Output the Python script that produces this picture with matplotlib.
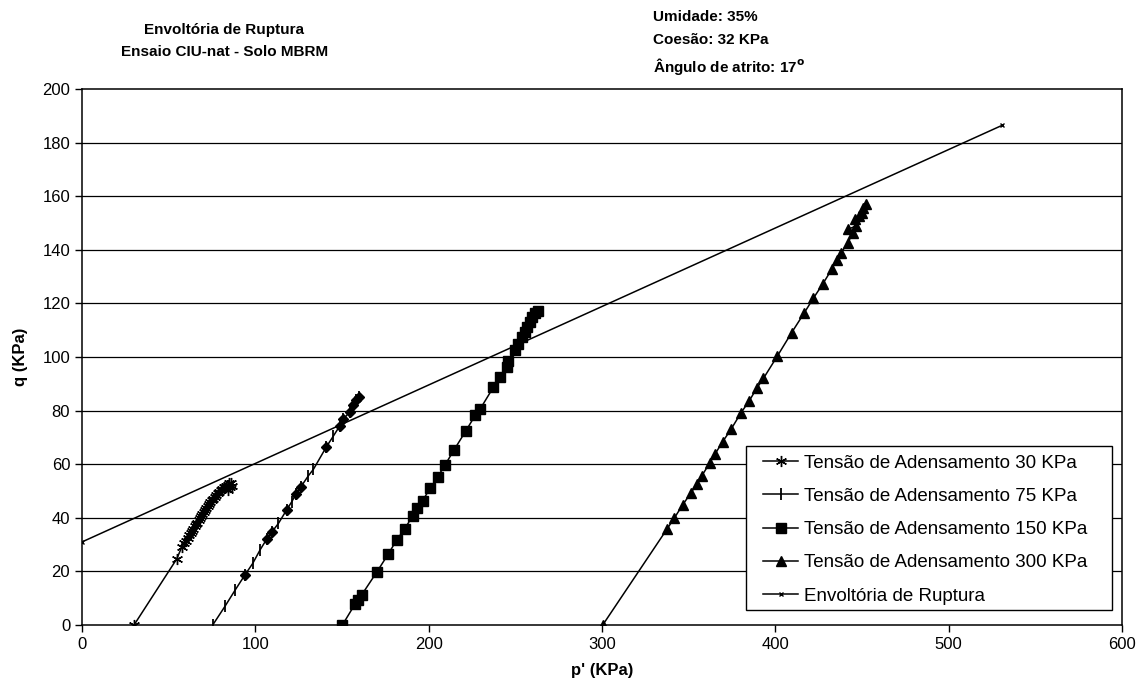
import matplotlib
matplotlib.use("Agg")
import matplotlib.pyplot as plt
from matplotlib.patches import Rectangle

plt.rcParams['font.family'] = ['Liberation Sans', 'DejaVu Sans']

# ---- data ----
p30 = [30.0, 54.6, 57.5, 59.0, 60.0, 61.0, 62.0, 62.8, 63.5, 64.3, 65.0, 65.8, 66.5, 67.3,
       68.0, 68.8, 69.4, 70.2, 71.0, 71.7, 72.5, 73.3, 74.0, 74.8, 75.7, 76.5, 77.4, 78.2,
       79.0, 80.0, 81.0, 82.0, 83.0, 84.0, 85.0, 86.0, 85.5, 84.2, 86.5]
q30 = [0.0, 24.6, 29.0, 30.5, 31.5, 32.4, 33.6, 34.2, 35.1, 35.9, 36.8, 37.6, 38.2, 39.1,
       39.9, 40.6, 41.3, 42.1, 42.8, 43.6, 44.4, 45.1, 45.9, 46.6, 47.2, 47.9, 48.6, 49.3,
       49.8, 50.5, 50.9, 51.6, 52.0, 52.4, 52.8, 53.1, 51.5, 50.2, 52.0]

p75 = [75.4, 82.5, 88.3, 94.0, 98.5, 102.7, 106.5, 109.4, 113.3, 118.0, 121.0, 123.5, 126.3,
       130.6, 133.5, 141.0, 145.0, 148.8, 150.7, 154.6, 156.5, 158.2, 159.8]
q75 = [0.0, 7.0, 13.0, 18.7, 23.0, 28.0, 32.0, 34.6, 37.9, 42.9, 46.0, 48.9, 51.6,
       55.7, 58.1, 66.5, 70.5, 74.4, 76.8, 79.6, 82.0, 83.8, 85.2]
# diamond-marked points lying on the 75 KPa path (not in legend)
p75d = [94.0, 106.5, 109.4, 118.0, 123.5, 126.3, 141.0, 148.8, 150.7, 154.6, 156.5, 158.2, 159.8]
q75d = [18.7, 32.0, 34.6, 42.9, 48.9, 51.6, 66.5, 74.4, 76.8, 79.6, 82.0, 83.8, 85.2]

p150 = [150.2, 157.5, 159.0, 161.3, 170.0, 176.7, 181.5, 186.3, 190.7, 193.4, 196.5, 200.8,
        205.2, 209.4, 214.6, 221.5, 227.0, 229.6, 237.3, 241.2, 245.0, 246.0, 250.0, 251.7,
        253.6, 255.6, 257.0, 258.5, 259.8, 261.3, 263.3]
q150 = [0.0, 7.8, 9.5, 11.2, 19.7, 26.5, 31.7, 36.0, 40.7, 43.5, 46.4, 51.0,
        55.3, 59.7, 65.3, 72.5, 78.4, 80.5, 88.7, 92.7, 96.4, 98.5, 102.6, 104.9,
        107.4, 109.5, 111.3, 113.2, 115.0, 116.3, 117.3]

p300 = [300.4, 337.7, 341.8, 346.5, 351.4, 354.6, 357.5, 362.3, 365.2, 369.6, 374.4, 380.2,
        385.0, 389.2, 393.1, 401.2, 409.4, 416.5, 421.9, 427.3, 432.5, 435.4, 437.9, 441.7,
        444.6, 442.1, 446.5, 446.0, 448.5, 449.8, 450.8, 452.3]
q300 = [0.0, 36.0, 40.0, 44.8, 49.4, 52.6, 55.6, 60.6, 63.8, 68.4, 73.0, 79.2,
        83.7, 88.3, 92.0, 100.4, 109.1, 116.3, 121.9, 127.2, 132.7, 136.2, 138.9, 142.4,
        146.2, 147.7, 148.9, 151.4, 152.6, 153.9, 155.5, 157.1]

p_env = [0.0, 531.0]
q_env = [31.0, 186.5]

labels = ["Tensão de Adensamento 30 KPa", "Tensão de Adensamento 75 KPa",
          "Tensão de Adensamento 150 KPa", "Tensão de Adensamento 300 KPa",
          "Envoltória de Ruptura"]

xticks = [0, 100, 200, 300, 400, 500, 600]
yticks = [0, 20, 40, 60, 80, 100, 120, 140, 160, 180, 200]

# ---- figure ----
fig = plt.figure(figsize=(11.44, 6.97), dpi=100)
ax = fig.add_axes([0.0717, 0.1033, 0.9091, 0.7690])

for y in yticks[1:-1]:
    ax.axhline(y, color='black', lw=0.9, zorder=1)

lw = 1.1
ax.plot(p30, q30, color='black', lw=lw, marker=(6, 2, 0), ms=8, mew=1.0, label=labels[0], zorder=3)
ax.plot(p75, q75, color='black', lw=lw, marker='|', ms=9, mew=1.3, label=labels[1], zorder=3)
ax.plot(p75d, q75d, linestyle='none', color='black', marker='D', ms=5.5, zorder=3)
ax.plot(p150, q150, color='black', lw=lw, marker='s', ms=7, label=labels[2], zorder=3)
ax.plot(p300, q300, color='black', lw=lw, marker='^', ms=6.5, label=labels[3], zorder=3)
ax.plot(p_env, q_env, color='black', lw=lw, marker='x', ms=3.5, mew=1, label=labels[4], zorder=3)

ax.set_xlim(0, 600)
ax.set_ylim(0, 200)
ax.set_xticks(xticks)
ax.set_yticks(yticks)
ax.tick_params(direction='out', length=5, width=1, labelsize=12, colors='black')
for s in ax.spines.values():
    s.set_linewidth(1.1)
    s.set_color('black')

ax.set_xlabel("p' (KPa)", fontsize=12, fontweight='bold', labelpad=8)
ax.set_ylabel("q (KPa)", fontsize=12, fontweight='bold', labelpad=10)

# legend box (frame drawn separately for wider side padding)
ax.add_patch(Rectangle((0.6385, 0.028), 0.3519, 0.306, transform=ax.transAxes,
                       facecolor='white', edgecolor='black', lw=1.0, zorder=5))
leg = ax.legend(loc='center', bbox_to_anchor=(0.8106, 0.178), fontsize=13.5,
                frameon=False, handlelength=1.87, handletextpad=0.3,
                labelspacing=0.86, borderpad=0, borderaxespad=0)
leg.set_zorder(6)

fig.text(0.196, 0.957, "Envoltória de Ruptura", ha='center', va='center',
         fontsize=11, fontweight='bold')
fig.text(0.196, 0.925, "Ensaio CIU-nat - Solo MBRM", ha='center', va='center',
         fontsize=11, fontweight='bold')
fig.text(0.571, 0.975, "Umidade: 35%", ha='left', va='center', fontsize=11, fontweight='bold')
fig.text(0.571, 0.942, "Coesão: 32 KPa", ha='left', va='center', fontsize=11, fontweight='bold')
fig.text(0.571, 0.905, r"Ângulo de atrito: 17$^\mathbf{o}$", ha='left', va='center',
         fontsize=11, fontweight='bold')

fig.savefig("out.png", dpi=100)
